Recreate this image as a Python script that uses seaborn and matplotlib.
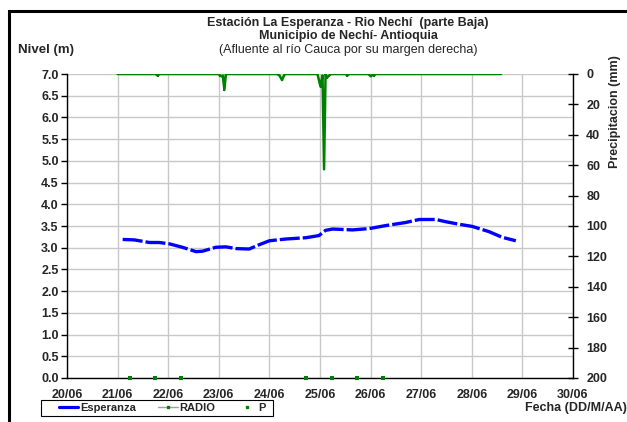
import numpy as np
import pandas as pd
import seaborn as sns
import matplotlib.pyplot as plt
from matplotlib.lines import Line2D
from matplotlib.patches import Rectangle

sns.set_style("white")
plt.rcParams['font.family'] = ['Liberation Sans', 'DejaVu Sans']

# Nivel (m) - Esperanza
esp_dia = [21.10, 21.33, 21.63, 21.82, 22.02, 22.28, 22.55, 22.68, 22.94, 23.14,
           23.34, 23.60, 23.80, 24.00, 24.32, 24.72, 24.98, 25.11, 25.25, 25.64,
           25.97, 26.30, 26.69, 26.96, 27.29, 27.48, 27.75, 28.01, 28.34, 28.60, 28.87]
esp_nivel = [3.19, 3.18, 3.12, 3.12, 3.09, 3.01, 2.91, 2.92, 3.01, 3.02,
             2.98, 2.97, 3.07, 3.16, 3.20, 3.23, 3.28, 3.40, 3.43, 3.41,
             3.44, 3.51, 3.58, 3.65, 3.65, 3.60, 3.54, 3.49, 3.37, 3.24, 3.16]

# Precipitacion RADIO (mm)
radio_dia = [21.00, 21.75, 21.79, 21.83, 23.00, 23.02, 23.05, 23.08, 23.11, 23.14,
             24.15, 24.20, 24.25, 24.28, 24.31, 24.95, 25.01, 25.05, 25.08, 25.11,
             25.14, 25.18, 25.22, 25.50, 25.54, 25.58, 25.96, 26.00, 26.04, 26.07,
             26.10, 28.58]
radio_mm = [0, 0, 1, 0, 0, 1, 1.5, 1, 10.5, 0,
            0, 1, 4, 1.5, 0, 0, 8.3, 1, 62.7, 0,
            2.4, 1, 0, 0, 1, 0, 0, 1.5, 0.5, 1,
            0, 0]

# Precipitacion P (mm)
p_dia = [21.24, 21.73, 22.25, 24.73, 25.24, 25.73, 26.25]
p_mm = [200, 200, 200, 200, 200, 200, 200]

dias = list(range(20, 31))
dia_labels = ['%02d/06' % d for d in dias]

esp = pd.DataFrame({'dia': esp_dia, 'nivel': esp_nivel})
radio = pd.DataFrame({'dia': radio_dia, 'mm': radio_mm})
p = pd.DataFrame({'dia': p_dia, 'mm': p_mm})

fig = plt.figure(figsize=(6.27, 4.22), dpi=100)
ax = fig.add_axes([67 / 627, 1 - 378 / 422, 506 / 627, 304 / 422])
ax2 = ax.twinx()

sns.lineplot(data=esp, x='dia', y='nivel', ax=ax, color='#0000FF', lw=2.4,
             dashes=False, zorder=3)
ax.lines[-1].set_dashes((6, 0.9))
ax.set_xlim(20, 30)
ax.set_ylim(0, 7)
ax.set_xticks(dias)
ax.set_xticklabels(dia_labels)
ax.set_yticks(np.arange(0, 7.01, 0.5))
ax.set_yticklabels(['%.1f' % v for v in np.arange(0, 7.01, 0.5)])
ax.grid(True, color='#c8c8c8', lw=1)
ax.set_xlabel('')
ax.set_ylabel('')
ax.tick_params(axis='both', labelsize=9, length=4, width=1, color='black',
               direction='out', pad=2)
ax.tick_params(axis='x', pad=4)
for lab in ax.get_xticklabels() + ax.get_yticklabels():
    lab.set_fontweight('bold')

sns.lineplot(data=radio, x='dia', y='mm', ax=ax2, color='#008000', lw=1.8,
             marker='s', markersize=2, markeredgewidth=0, zorder=3)
sns.scatterplot(data=p, x='dia', y='mm', ax=ax2, color='#008000', marker='s',
                s=5, linewidth=0, zorder=4, clip_on=False)
ax2.set_ylim(200, 0)
ax2.set_yticks(range(0, 201, 20))
ax2.set_xlabel('')
ax2.set_ylabel('')
ax2.tick_params(axis='y', labelsize=9, length=7, width=1, color='black',
                direction='inout', pad=6)
for lab in ax2.get_yticklabels():
    lab.set_fontweight('bold')

for a in (ax, ax2):
    a.spines['top'].set_visible(False)
    for s in ('left', 'right', 'bottom'):
        a.spines[s].set_color('black')
        a.spines[s].set_linewidth(1)
ax2.spines['left'].set_visible(False)
ax2.spines['bottom'].set_visible(False)
ax.spines['right'].set_visible(False)

fig.text(348 / 627, 1 - 23 / 422, 'Estación La Esperanza - Rio Nechí  (parte Baja)',
         ha='center', va='center', fontsize=9, fontweight='bold')
fig.text(348 / 627, 1 - 36 / 422, 'Municipio de Nechí- Antioquia',
         ha='center', va='center', fontsize=9, fontweight='bold')
fig.text(348 / 627, 1 - 50 / 422, '(Afluente al río Cauca por su margen derecha)',
         ha='center', va='center', fontsize=9)
fig.text(18 / 627, 1 - 50 / 422, 'Nivel (m)', ha='left', va='center',
         fontsize=9.5, fontweight='bold')
fig.text(615 / 627, 1 - 112 / 422, 'Precipitacion (mm)', ha='center', va='center',
         rotation=90, fontsize=9, fontweight='bold')
fig.text(627 / 627, 1 - 408 / 422, 'Fecha (DD/M/AA)', ha='right', va='center',
         fontsize=9, fontweight='bold')

# leyenda con marco propio
handles = [Line2D([], [], color='#0000FF', lw=2.3),
           Line2D([], [], color='#a0a0a0', lw=1, marker='s', markersize=2,
                  markerfacecolor='#008000', markeredgecolor='#008000'),
           Line2D([], [], color='none', marker='s', markersize=2,
                  markerfacecolor='#008000', markeredgecolor='#008000')]
leg = fig.legend(handles, ['Esperanza', 'RADIO', 'P'], ncol=3, loc='center left',
                 bbox_to_anchor=(59 / 627, 1 - 408 / 422), fontsize=8,
                 frameon=False, handlelength=1.75, handletextpad=0.15,
                 columnspacing=2.0, borderpad=0, borderaxespad=0)
for t in leg.get_texts():
    t.set_fontweight('bold')
fig.add_artist(Rectangle((41 / 627, 1 - 416 / 422), 232 / 627, 16 / 422,
                         transform=fig.transFigure, fill=False,
                         edgecolor='black', lw=0.8))

# marco exterior
fig.add_artist(Rectangle((9 / 627, -0.1), 1.2, 1 - 11 / 422 + 0.1,
                         transform=fig.transFigure, fill=False,
                         edgecolor='black', lw=2.2))

fig.savefig('out.png', dpi=100)
